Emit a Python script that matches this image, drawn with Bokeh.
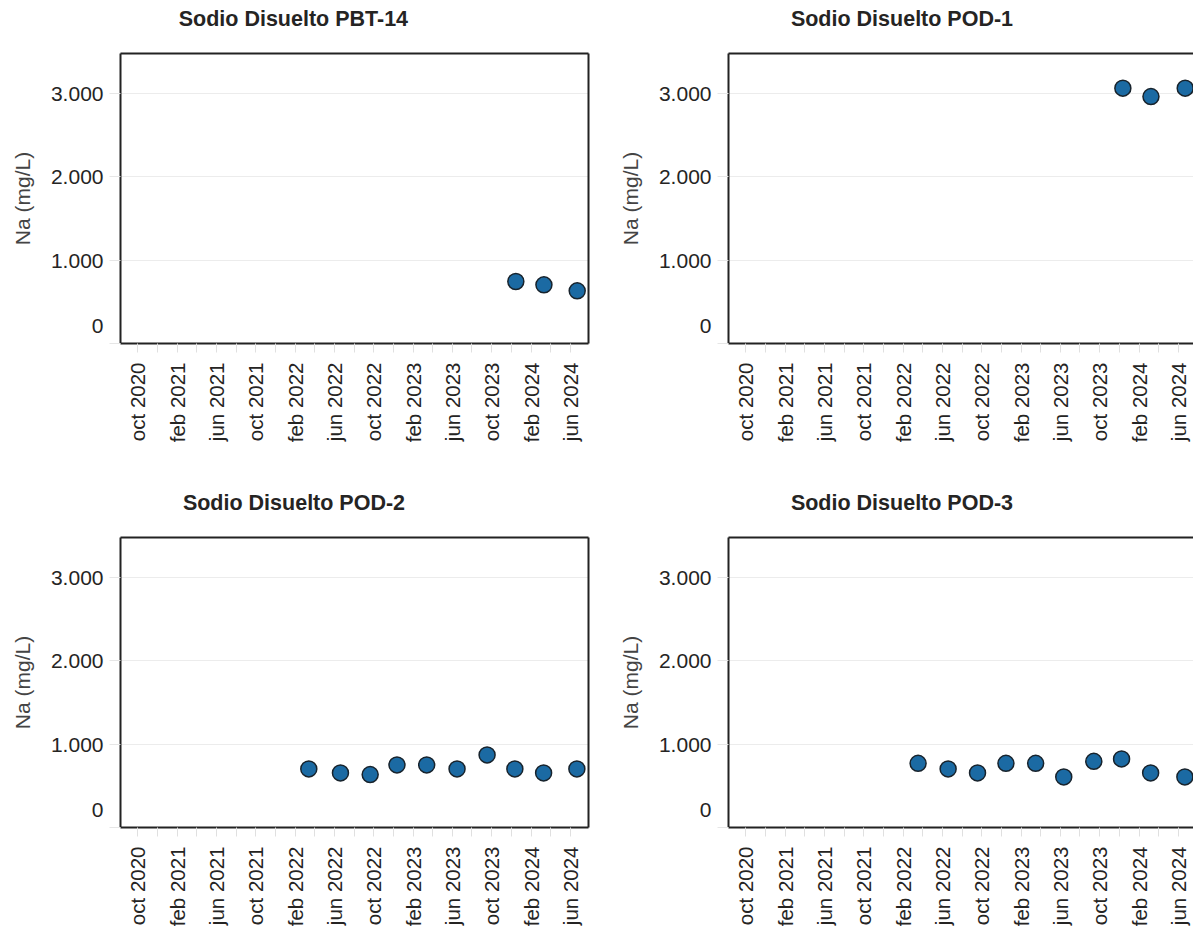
import numpy as np
import pandas as pd
from bokeh.plotting import figure
from bokeh.layouts import gridplot
from bokeh.models import (FixedTicker, CustomJSTickFormatter, LinearAxis,
                          Range1d, ColumnDataSource)
from bokeh.embed import file_html
from bokeh.resources import INLINE

# ---------------- data ----------------
titles = ["Sodio Disuelto PBT-14", "Sodio Disuelto POD-1",
          "Sodio Disuelto POD-2", "Sodio Disuelto POD-3"]

pbt14_dates = ["2023-12-15", "2024-03-11", "2024-06-22"]
pbt14_na = [744, 704, 632]

pod1_dates = ["2023-12-12", "2024-03-08", "2024-06-22"]
pod1_na = [3064, 2963, 3064]

pod2_dates = ["2022-03-14", "2022-06-20", "2022-09-20", "2022-12-12", "2023-03-14",
              "2023-06-16", "2023-09-17", "2023-12-12", "2024-03-10", "2024-06-21"]
pod2_na = [703, 655, 635, 751, 751, 703, 871, 703, 655, 703]

pod3_dates = ["2022-03-18", "2022-06-19", "2022-09-18", "2022-12-15", "2023-03-17",
              "2023-06-12", "2023-09-13", "2023-12-08", "2024-03-07", "2024-06-21"]
pod3_na = [770, 703, 655, 770, 770, 607, 794, 823, 655, 607]

y_axis_title = "Na (mg/L)"
y_ticks = [0, 1000, 2000, 3000]
x_major_ticks = ["2020-10-01", "2021-02-01", "2021-06-01", "2021-10-01", "2022-02-01",
                 "2022-06-01", "2022-10-01", "2023-02-01", "2023-06-01", "2023-10-01",
                 "2024-02-01", "2024-06-01"]
x_minor_ticks = ["2020-12-01", "2021-04-01", "2021-08-01", "2021-12-01", "2022-04-01",
                 "2022-08-01", "2022-12-01", "2023-04-01", "2023-08-01", "2023-12-01",
                 "2024-04-01"]
month_names = ["ene", "feb", "mar", "abr", "may", "jun",
               "jul", "ago", "sep", "oct", "nov", "dic"]

# ---------------- layout constants ----------------
X_START = pd.Timestamp("2020-08-08")
X_END = pd.Timestamp("2024-07-27")
Y_MAX = 3480
LEFT_W, RIGHT_W = 608, 585
TOP_H, BOT_H = 484, 445
FRAME_L, FRAME_W = 120, 468
BORDER_TOP, FRAME_H = 53, 290

FONT = "Liberation Sans"
BLUE = "#1b6aa3"
DARK = "#252423"


def ms(s):
    return pd.Timestamp(s).value / 1e6


def make(title, dates, values, right_col, bottom_row):
    w = RIGHT_W if right_col else LEFT_W
    h = BOT_H if bottom_row else TOP_H
    start = ms(X_START)
    span = ms(X_END) - start
    frame_w = (w - FRAME_L) if right_col else FRAME_W
    end = start + span * frame_w / FRAME_W
    p = figure(width=w, height=h, x_axis_type="datetime",
               x_range=Range1d(start, end), y_range=Range1d(0, Y_MAX),
               output_backend="svg", toolbar_location=None,
               min_border_left=FRAME_L, min_border_right=w - FRAME_L - frame_w,
               min_border_top=BORDER_TOP, min_border_bottom=h - BORDER_TOP - FRAME_H,
               outline_line_color=None, background_fill_color="white",
               border_fill_color="white")

    # title (an empty second line lifts the title away from the frame)
    p.title.text = title + "\n "
    p.title.align = "left"
    p.title.text_font = FONT
    p.title.text_font_size = "21.5px"
    p.title.text_font_style = "bold"
    p.title.text_color = DARK
    p.title.text_line_height = 0.87
    p.title.standoff = 4
    tw = {"Sodio Disuelto PBT-14": 230.6}.get(title, 222.2)
    p.title.offset = (293.5 - FRAME_L) - tw / 2

    # x axis
    xa = p.xaxis[0]
    xa.ticker = FixedTicker(ticks=[ms(t) for t in x_major_ticks],
                            minor_ticks=[ms(t) for t in x_minor_ticks])
    xa.formatter = CustomJSTickFormatter(args=dict(names=month_names), code="""
        const d = new Date(tick);
        return names[d.getUTCMonth()] + ' ' + d.getUTCFullYear();
    """)
    xa.major_label_orientation = np.pi / 2
    xa.major_label_text_font = FONT
    xa.major_label_text_font_size = "20.5px"
    xa.major_label_text_color = DARK
    xa.major_label_standoff = 10
    xa.major_tick_in = 0
    xa.major_tick_out = 9
    xa.minor_tick_in = 0
    xa.minor_tick_out = 9
    xa.major_tick_line_color = "#e0e0e0"
    xa.minor_tick_line_color = "#e0e0e0"
    xa.axis_line_color = "#222222"
    xa.axis_line_width = 2

    # y axis ("0" is flushed above its tick as in the original)
    ya = p.yaxis[0]
    ya.ticker = FixedTicker(ticks=y_ticks)
    ya.formatter = CustomJSTickFormatter(code=r"""
        if (tick == 0) { return '0\n '; }
        return Math.round(tick).toString().replace(/\B(?=(\d{3})+(?!\d))/g, '.');
    """)
    ya.major_label_text_font = FONT
    ya.major_label_text_font_size = "21px"
    ya.major_label_text_line_height = 1.6
    ya.major_label_text_color = DARK
    ya.major_label_standoff = 6
    ya.major_tick_in = 0
    ya.major_tick_out = 11
    ya.minor_tick_in = 0
    ya.minor_tick_out = 0
    ya.major_tick_line_color = "#e6e6e6"
    ya.axis_line_color = "#222222"
    ya.axis_line_width = 2
    ya.axis_label = y_axis_title
    ya.axis_label_text_font = FONT
    ya.axis_label_text_font_size = "21px"
    ya.axis_label_text_font_style = "normal"
    ya.axis_label_text_color = "#444444"
    ya.axis_label_standoff = 14

    # frame borders (top, and right where visible)
    top = LinearAxis(ticker=FixedTicker(ticks=[]), axis_line_color="#222222",
                     axis_line_width=2, major_tick_out=0, major_tick_in=0,
                     minor_tick_out=0, minor_tick_in=0,
                     major_label_text_font_size="0px")
    p.add_layout(top, "above")
    if not right_col:
        r = LinearAxis(ticker=FixedTicker(ticks=[]), axis_line_color="#222222",
                       axis_line_width=2, major_tick_out=0, major_tick_in=0,
                       minor_tick_out=0, minor_tick_in=0,
                       major_label_text_font_size="0px")
        p.add_layout(r, "right")

    # grid
    p.xgrid.visible = False
    p.ygrid.ticker = FixedTicker(ticks=y_ticks)
    p.ygrid.grid_line_color = "#ececec"
    p.ygrid.grid_line_width = 1

    src = ColumnDataSource(dict(x=pd.to_datetime(dates), y=values))
    p.scatter("x", "y", source=src, marker="circle", size=16,
              fill_color=BLUE, line_color="#18232c", line_width=1.5)
    return p


p1 = make(titles[0], pbt14_dates, pbt14_na, False, False)
p2 = make(titles[1], pod1_dates, pod1_na, True, False)
p3 = make(titles[2], pod2_dates, pod2_na, False, True)
p4 = make(titles[3], pod3_dates, pod3_na, True, True)

grid = gridplot([[p1, p2], [p3, p4]], toolbar_location=None)

open("out.html", "w").write(file_html(grid, INLINE))
